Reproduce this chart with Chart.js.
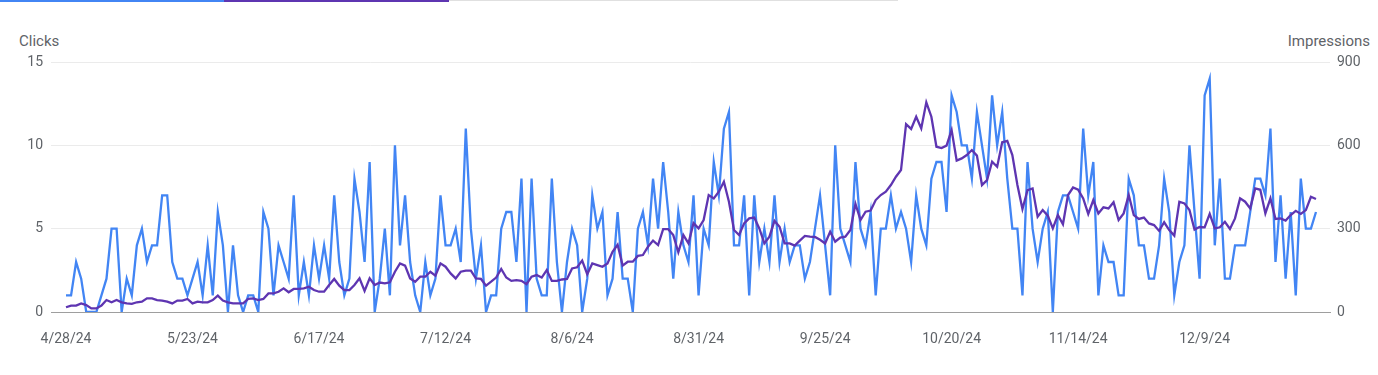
<!DOCTYPE html>
<html>
<head>
<meta charset="utf-8">
<script src="https://cdn.jsdelivr.net/npm/chart.js@4.4.1/dist/chart.umd.min.js"></script>
<style>
  html, body { margin: 0; padding: 0; background: #fff; }
  body { width: 1378px; height: 375px; position: relative; overflow: hidden; font-family: Roboto, sans-serif; }
  .tab { position: absolute; top: 0; height: 2px; }
  .axis-title { position: absolute; top: 32px; font-size: 15px; line-height: 18px; color: #5f6368; }
  #wrap { position: absolute; left: 0; top: 0; width: 1378px; height: 375px; }
</style>
</head>
<body>
<div class="tab" style="left:0;width:224px;background:#4285f4"></div>
<div class="tab" style="left:224px;width:225px;background:#5e35b1"></div>
<div class="tab" style="left:449px;width:449px;height:1px;background:#e0e0e0"></div>
<div class="axis-title" style="left:19px">Clicks</div>
<div class="axis-title" style="right:8px">Impressions</div>
<div id="wrap"><canvas id="myChart" width="1378" height="375"></canvas></div>
<script>
'use strict';

// daily values, 4/28/24 .. 12/31/24
const clicks = [
  1,1,3,2,0,0,0,1,2,5,5,0,2,1,4,5,3,4,4,7,7,3,2,2,1,
  2,3,1,4,1,6,4,0,4,1,0,1,1,0,6,5,1,4,3,2,7,1,3,1,4,
  2,4,2,7,3,1,2,8,6,3,9,0,2,5,1,10,4,7,3,1,0,3,1,2,7,
  4,4,5,3,11,5,2,4,0,1,1,5,6,6,3,8,0,8,2,1,1,8,3,0,3,
  5,4,0,2,7,5,6,1,2,6,2,2,0,5,6,4,8,5,9,6,2,6,4,3,7,
  1,5,4,9,7,11,12,4,4,7,1,7,3,5,3,7,3,5,3,4,4,2,3,5,7,
  4,1,10,5,4,3,9,5,4,6,1,5,5,7,5,6,5,3,7,5,4,8,9,9,6,
  13,12,10,10,8,12,10,8,13,10,12,8,5,5,1,9,5,3,5,6,0,6,7,7,6,
  5,11,7,9,1,4,3,3,1,1,8,7,4,4,2,2,4,8,6,1,3,4,10,6,2,
  13,14,4,8,2,2,4,4,4,6,8,8,7,11,3,7,2,6,1,8,5,5,6
];
const impressions = [
  17,23,23,31,25,13,13,23,43,35,43,35,31,29,35,37,49,49,43,41,37,31,41,41,47,
  31,37,35,35,43,59,41,35,31,31,31,47,49,43,47,67,67,73,85,71,83,83,85,91,79,
  73,73,97,119,95,79,79,97,121,76,121,97,106,103,107,145,175,167,121,109,127,127,145,131,175,
  163,139,121,145,149,149,121,119,95,109,124,155,124,112,115,112,100,127,133,124,151,112,112,117,119,
  157,161,185,136,175,169,163,175,217,242,167,181,181,202,205,235,257,241,298,298,277,215,277,247,320,
  301,331,421,409,433,469,397,295,277,319,337,340,301,247,271,328,307,247,247,239,257,274,271,270,260,
  247,289,253,268,271,295,389,331,361,365,403,421,433,457,487,511,676,659,703,661,755,703,595,590,599,
  655,545,553,565,583,563,457,475,541,523,611,616,565,457,371,439,445,343,367,347,301,349,316,421,448,
  440,409,353,403,355,377,373,395,331,355,421,349,335,340,319,313,292,323,295,275,397,391,367,297,306,
  305,353,301,305,325,299,337,409,397,373,445,440,355,409,335,337,329,349,364,353,367,415,407
];
const tickDays = [0, 25, 50, 75, 100, 125, 150, 175, 200, 225];
const tickLabels = ['4/28/24', '5/23/24', '6/17/24', '7/12/24', '8/6/24', '8/31/24', '9/25/24', '10/20/24', '11/14/24', '12/9/24'];
const clickTicks = [0, 5, 10, 15];
const impressionTicks = [0, 300, 600, 900];

const textColor = '#5f6368';
const font = { family: 'Roboto', size: 14 };

const ctx = document.getElementById('myChart').getContext('2d');
const myChart = new Chart(ctx, {
  type: 'line',
  data: {
    datasets: [{
      label: 'Clicks',
      data: clicks.map((v, i) => ({ x: i, y: v })),
      borderColor: '#4285f4',
      borderWidth: 2.3,
      pointRadius: 0,
      tension: 0,
      yAxisID: 'y',
      order: 2
    }, {
      label: 'Impressions',
      data: impressions.map((v, i) => ({ x: i, y: v })),
      borderColor: '#5e35b1',
      borderWidth: 2.3,
      pointRadius: 0,
      tension: 0,
      yAxisID: 'y1',
      order: 1
    }]
  },
  options: {
    responsive: false,
    animation: false,
    events: [],
    layout: { padding: { top: 62, left: 0, right: 0, bottom: 0 } },
    plugins: { legend: { display: false }, tooltip: { enabled: false } },
    scales: {
      x: {
        type: 'linear',
        min: -2.964,
        max: 249.77,
        afterBuildTicks: (s) => { s.ticks = tickDays.map(v => ({ value: v })); },
        afterFit: (s) => { s.height = 63; },
        ticks: {
          color: textColor,
          font: font,
          padding: 19,
          maxRotation: 0,
          autoSkip: false,
          callback: (v) => tickLabels[tickDays.indexOf(v)]
        },
        grid: { display: false, drawTicks: false },
        border: { display: true, color: '#9e9e9e', width: 1 }
      },
      y: {
        position: 'left',
        min: 0,
        max: 15,
        afterBuildTicks: (s) => { s.ticks = clickTicks.map(v => ({ value: v })); },
        afterFit: (s) => { s.width = 51; },
        ticks: { color: textColor, font: font, padding: 8 },
        grid: { color: '#ebebeb', drawTicks: false },
        border: { display: false }
      },
      y1: {
        position: 'right',
        min: 0,
        max: 900,
        afterBuildTicks: (s) => { s.ticks = impressionTicks.map(v => ({ value: v })); },
        afterFit: (s) => { s.width = 48; },
        ticks: { color: textColor, font: font, padding: 7 },
        grid: { display: false, drawTicks: false },
        border: { display: false }
      }
    }
  }
});
</script>
</body>
</html>
